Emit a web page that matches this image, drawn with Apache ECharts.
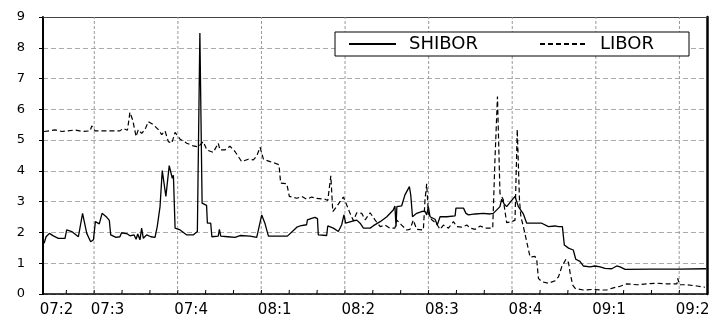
<!DOCTYPE html>
<html>
<head>
<meta charset="utf-8">
<script src="https://cdn.jsdelivr.net/npm/echarts@6/dist/echarts.min.js"></script>
<style>
html,body{margin:0;padding:0;background:#fff;}
#c{width:717px;height:320px;}
</style>
</head>
<body>
<div id="c"></div>
<script>
// x values: fractional months since Jan 2007 (6 = Jul 2007, 12 = Jan 2008 ...)
const shiborT = [4.21,4.28,4.40,4.54,4.72,4.96,5.02,5.20,5.44,5.59,5.74,5.88,5.98,6.05,6.19,6.29,6.46,6.55,6.60,6.79,6.93,6.99,7.20,7.29,7.44,7.51,7.57,7.65,7.71,7.77,7.89,8.04,8.19,8.27,8.37,8.45,8.58,8.70,8.81,8.85,8.91,9.09,9.33,9.56,9.71,9.75,9.80,9.88,10.04,10.07,10.19,10.23,10.46,10.50,10.55,10.80,11.06,11.24,11.60,11.84,11.90,12.02,12.14,12.20,12.26,12.94,13.28,13.39,13.63,13.66,13.81,13.93,14.02,14.05,14.35,14.39,14.59,14.77,14.89,14.97,15.03,15.25,15.43,15.55,15.67,15.91,16.03,16.27,16.51,16.74,16.80,16.84,16.87,17.04,17.16,17.32,17.37,17.43,17.58,17.76,17.88,17.94,18.00,18.06,18.24,18.32,18.42,18.66,18.96,18.99,19.26,19.35,19.44,19.68,19.97,20.21,20.33,20.57,20.63,20.72,20.81,21.11,21.23,21.41,21.53,22.07,22.11,22.31,22.55,22.67,22.81,22.88,23.03,23.20,23.29,23.44,23.56,23.80,23.98,24.16,24.34,24.58,24.76,24.88,25.06,25.96,27.03,27.97];
const shiborV = [1.65,1.86,1.97,1.89,1.81,1.81,2.08,2.03,1.86,2.62,1.97,1.70,1.76,2.35,2.28,2.62,2.49,2.39,1.92,1.84,1.86,1.99,1.95,1.89,1.92,1.78,1.95,1.76,2.14,1.81,1.92,1.86,1.84,2.19,2.84,4.01,3.17,4.17,3.76,3.86,2.14,2.08,1.92,1.92,2.03,2.05,8.48,2.95,2.88,2.30,2.30,1.86,1.88,2.10,1.88,1.86,1.84,1.90,1.88,1.84,1.82,2.57,2.28,2.28,1.88,1.88,2.17,2.21,2.25,2.41,2.46,2.49,2.45,1.92,1.90,2.21,2.14,2.03,2.25,2.57,2.30,2.36,2.40,2.30,2.14,2.14,2.22,2.35,2.51,2.73,2.86,2.19,2.84,2.86,3.22,3.49,3.20,2.51,2.62,2.68,2.69,2.57,2.84,2.51,2.43,2.24,2.51,2.51,2.54,2.79,2.79,2.62,2.57,2.60,2.62,2.60,2.62,2.84,3.08,2.93,2.84,3.17,2.84,2.60,2.30,2.30,2.24,2.19,2.21,2.19,2.19,1.59,1.49,1.43,1.13,1.06,0.91,0.88,0.91,0.88,0.83,0.82,0.91,0.88,0.80,0.81,0.81,0.82];
const liborT = [4.21,4.60,4.85,5.32,5.57,5.86,5.92,6.04,6.93,7.05,7.20,7.29,7.39,7.51,7.59,7.71,7.83,7.95,8.13,8.31,8.43,8.55,8.67,8.79,8.91,9.09,9.33,9.56,9.74,9.92,10.05,10.28,10.46,10.52,10.70,10.88,11.06,11.30,11.54,11.72,11.84,11.96,12.08,12.32,12.50,12.64,12.70,12.92,13.01,13.28,13.46,13.63,13.81,13.99,14.29,14.39,14.50,14.57,14.71,14.83,14.95,15.07,15.19,15.31,15.43,15.61,15.73,15.91,16.09,16.27,16.45,16.62,16.80,16.87,17.04,17.22,17.34,17.46,17.58,17.82,17.88,17.94,18.00,18.12,18.28,18.42,18.54,18.72,18.90,19.02,19.20,19.38,19.50,19.68,19.86,20.04,20.31,20.39,20.48,20.57,20.69,20.81,20.99,21.11,21.19,21.27,21.32,21.41,21.53,21.65,21.71,21.83,21.89,21.95,22.07,22.31,22.55,22.67,22.79,22.94,23.03,23.09,23.18,23.27,23.56,23.92,24.16,24.40,24.64,24.88,25.12,25.48,25.84,25.90,26.20,26.56,26.92,26.95,27.01,27.28,27.64,27.93];
const liborV = [5.28,5.33,5.28,5.33,5.28,5.30,5.46,5.30,5.30,5.38,5.32,5.90,5.65,5.12,5.34,5.22,5.34,5.60,5.50,5.34,5.18,5.30,4.95,4.90,5.25,5.03,4.90,4.81,4.78,4.95,4.68,4.60,4.90,4.68,4.68,4.80,4.63,4.30,4.38,4.36,4.48,4.77,4.38,4.30,4.25,4.20,3.60,3.58,3.17,3.11,3.17,3.08,3.15,3.11,3.08,3.04,3.84,2.68,2.84,3.00,3.15,2.89,2.62,2.38,2.64,2.62,2.41,2.64,2.40,2.19,2.24,2.14,2.14,2.40,2.24,2.08,2.10,2.40,2.10,2.08,3.06,3.58,2.62,2.41,2.30,2.10,2.24,2.14,2.35,2.19,2.17,2.24,2.14,2.10,2.21,2.14,2.14,4.36,6.42,3.27,3.06,2.32,2.35,2.40,5.35,3.06,2.51,2.19,1.70,1.20,1.25,1.22,1.10,0.51,0.40,0.35,0.43,0.56,0.89,1.13,1.02,0.67,0.29,0.18,0.13,0.15,0.13,0.13,0.20,0.25,0.33,0.30,0.33,0.36,0.35,0.33,0.33,0.51,0.30,0.30,0.26,0.22];

const xMin = 4.17, xMax = 28;
const quarterTicks = [6, 9, 12, 15, 18, 21, 24, 27];
const monthTicks = [5,6,7,8,9,10,11,12,13,14,15,16,17,18,19,20,21,22,23,24,25,26,27];
const quarterSplits = 8;            // -> axis label positions every 3 months
const labelAt = [4.17, 6, 9, 12, 15, 18, 21, 24, 27];
const labelText = ['07:2','07:3','07:4','08:1','08:2','08:3','08:4','09:1','09:2'];
const yMin = 0, yMax = 9, yStep = 1;
const tickLen = 0.13;               // tick height, in y units
const lean = 0.012;                 // tiny x offset so vertical strokes have a non-zero width box

const zip = (t, v) => t.map((x, i) => [x, v[i]]);
const FONT = 'DejaVu Sans';
const gridData = quarterTicks.flatMap(q => [[q, yMin], [q + lean, yMax], [q, '-']]);
const tickData = monthTicks.flatMap(m => [[m, yMin], [m + lean, yMin + tickLen], [m, '-']]);

const chart = echarts.init(document.getElementById('c'), null, {renderer: 'canvas'});
chart.setOption({
  animation: false,
  backgroundColor: '#fff',
  grid: {left: 43, right: 10, top: 17, bottom: 26, show: false},
  legend: {
    left: 335, top: 32, orient: 'horizontal',
    padding: [3, 12, 3, 13],
    itemWidth: 47, itemHeight: 10, itemGap: 33,
    backgroundColor: '#fff', borderColor: '#000', borderWidth: 1, z: 10,
    itemStyle: {opacity: 0},
    textStyle: {fontFamily: FONT, fontSize: 18, color: '#000', lineHeight: 18, padding: [0, 0, 0, 8]},
    data: [
      {name: 'SHIBOR', textStyle: {width: 97}},
      {name: 'LIBOR', textStyle: {width: 77}}
    ]
  },
  xAxis: [
    {
      type: 'value', min: xMin, max: xMax, splitNumber: quarterSplits, position: 'bottom',
      axisLine: {show: true, onZero: false, lineStyle: {color: '#000', width: 1.5}},
      axisTick: {show: false},
      axisLabel: {
        showMinLabel: true, showMaxLabel: false,
        margin: 9, fontFamily: FONT, fontSize: 15, color: '#000',
        padding: [0, 0, 0, 27],
        formatter: v => {
          const i = labelAt.findIndex(a => Math.abs(a - v) < 0.01);
          return i >= 0 ? labelText[i] : '';
        }
      },
      splitLine: {show: false}
    },
    {
      type: 'value', min: xMin, max: xMax, position: 'top',
      axisLine: {show: true, onZero: false, lineStyle: {color: '#444', width: 1}},
      axisTick: {show: false}, axisLabel: {show: false}, splitLine: {show: false}
    }
  ],
  yAxis: [
    {
      type: 'value', min: yMin, max: yMax, interval: yStep, position: 'left',
      axisLine: {show: true, onZero: false, lineStyle: {color: '#000', width: 2}},
      axisTick: {show: true, inside: false, length: 4, lineStyle: {color: '#000', width: 1}},
      axisLabel: {margin: 18, fontFamily: FONT, fontSize: 13, color: '#000'},
      splitLine: {show: true, lineStyle: {color: '#aaa', width: 1, type: [5, 3]}}
    },
    {
      type: 'value', min: yMin, max: yMax, interval: yStep, position: 'right',
      axisLine: {show: true, onZero: false, lineStyle: {color: '#000', width: 2.5}},
      axisTick: {show: false}, axisLabel: {show: false}, splitLine: {show: false}
    }
  ],
  series: [
    {
      name: 'quarter grid', type: 'line', xAxisIndex: 0, yAxisIndex: 0,
      symbol: 'none', silent: true, connectNulls: false, z: 1,
      data: gridData,
      lineStyle: {color: '#999', width: 1, type: [3, 2]},
      emphasis: {disabled: true}
    },
    {
      name: 'month ticks', type: 'line', xAxisIndex: 0, yAxisIndex: 0,
      symbol: 'none', silent: true, connectNulls: false, z: 4,
      data: tickData,
      lineStyle: {color: '#000', width: 1},
      emphasis: {disabled: true}
    },
    {
      name: 'SHIBOR', type: 'line', xAxisIndex: 0, yAxisIndex: 0,
      symbol: 'none', data: zip(shiborT, shiborV),
      lineStyle: {color: '#000', width: 1.3}, itemStyle: {color: '#000'}, z: 3
    },
    {
      name: 'LIBOR', type: 'line', xAxisIndex: 0, yAxisIndex: 0,
      symbol: 'none', data: zip(liborT, liborV),
      lineStyle: {color: '#000', width: 1.2, type: [5, 3]}, itemStyle: {color: '#000'}, z: 2
    }
  ]
});
</script>
</body>
</html>
